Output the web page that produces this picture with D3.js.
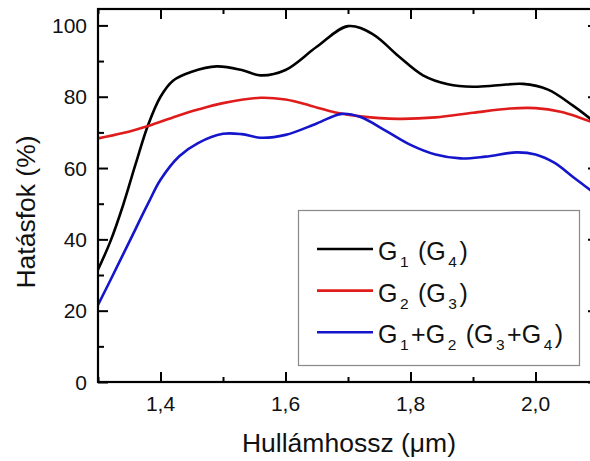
<!DOCTYPE html>
<html>
<head>
<meta charset="utf-8">
<script src="https://cdn.jsdelivr.net/npm/d3@7"></script>
<style>
  body { margin: 0; background: #fff; }
  svg { display: block; font-family: "Liberation Sans", Arial, sans-serif; }
</style>
</head>
<body>
<svg></svg>
<script>
const width = 590
const height = 461

// wavelength samples (µm) and efficiency (%) per series
const waveG1 = [1.30, 1.32, 1.34, 1.36, 1.38, 1.40, 1.42, 1.45, 1.49, 1.53, 1.56, 1.60, 1.65, 1.70, 1.74, 1.78, 1.82, 1.86, 1.90, 1.94, 1.98, 2.02, 2.06, 2.09, 2.10]
const effG1 = [31.5, 39.5, 49.5, 61, 72, 80, 84.5, 87, 88.5, 87.5, 86, 87.5, 94, 99.8, 97.5, 91.5, 86, 83.5, 82.8, 83.2, 83.6, 82, 77.5, 73.5, 72]

const waveG2 = [1.30, 1.34, 1.38, 1.42, 1.46, 1.50, 1.56, 1.60, 1.64, 1.68, 1.72, 1.78, 1.84, 1.90, 1.96, 2.00, 2.04, 2.07, 2.10]
const effG2 = [68.3, 69.8, 71.8, 74.2, 76.4, 78.2, 79.7, 79.2, 77.5, 75.6, 74.5, 73.8, 74.2, 75.5, 76.7, 76.8, 75.8, 74.2, 72.2]

const waveG12 = [1.30, 1.32, 1.35, 1.38, 1.40, 1.43, 1.46, 1.50, 1.53, 1.56, 1.60, 1.65, 1.69, 1.72, 1.76, 1.80, 1.84, 1.88, 1.92, 1.97, 2.00, 2.03, 2.06, 2.09, 2.10]
const effG12 = [21.6, 28.6, 39.3, 50, 56.7, 63.3, 67, 69.6, 69.5, 68.5, 69.3, 72.5, 75.2, 74.3, 70.5, 66.5, 63.8, 62.7, 63.2, 64.4, 63.8, 61.5, 57.5, 53.5, 52]

const xMajor = [1.4, 1.6, 1.8, 2.0]
const xMinor = [1.3, 1.5, 1.7, 1.9]
const yMajor = [0, 20, 40, 60, 80, 100]
const yMinor = [10, 30, 50, 70, 90]

const series = [
	{ x: waveG1, y: effG1, color: '#000000', label: [['G', ''], ['1', 'sub'], [' (G', ''], ['4', 'sub'], [')', '']] },
	{ x: waveG2, y: effG2, color: '#e01b1b', label: [['G', ''], ['2', 'sub'], [' (G', ''], ['3', 'sub'], [')', '']] },
	{ x: waveG12, y: effG12, color: '#1515cc', label: [['G', ''], ['1', 'sub'], ['+G', ''], ['2', 'sub'], [' (G', ''], ['3', 'sub'], ['+G', ''], ['4', 'sub'], [')', '']] }
]

const pLeft = 98, pRight = 598, pTop = 9, pBottom = 382

const x = d3.scaleLinear().domain([1.3, 2.1]).range([pLeft, pRight])
const y = d3.scaleLinear().domain([0, 104.6]).range([pBottom, pTop])

const fmt = d => d3.format('.1f')(d).replace('.', ',')

const svg = d3.select('svg')
	.attr('width', width)
	.attr('height', height)

svg.append('rect').attr('width', width).attr('height', height).attr('fill', '#fff')

svg.append('defs').append('clipPath').attr('id', 'plot')
	.append('rect').attr('x', pLeft).attr('y', pTop).attr('width', pRight - pLeft).attr('height', pBottom - pTop)

const line = d3.line()
	.x(d => x(d[0]))
	.y(d => y(d[1]))
	.curve(d3.curveCatmullRom.alpha(0.5))

svg.append('g')
	.attr('clip-path', 'url(#plot)')
	.selectAll('path')
	.data(series)
	.enter()
	.append('path')
	.attr('d', s => line(s.x.map((v, i) => [v, s.y[i]])))
	.attr('fill', 'none')
	.attr('stroke', s => s.color)
	.attr('stroke-width', 2.6)

// axes, ticks inward on all four sides
const axes = svg.append('g')
function ticks(axis, vals, size) {
	return axis.tickValues(vals).tickSize(size).tickFormat('')
}
axes.append('g').attr('transform', `translate(0,${pBottom})`)
	.call(ticks(d3.axisTop(x), xMinor, 5))
axes.append('g').attr('transform', `translate(0,${pBottom})`)
	.call(ticks(d3.axisTop(x), xMajor, 10))
axes.append('g').attr('transform', `translate(0,${pTop})`)
	.call(ticks(d3.axisBottom(x), xMinor, 5))
axes.append('g').attr('transform', `translate(0,${pTop})`)
	.call(ticks(d3.axisBottom(x), xMajor, 10))
axes.append('g').attr('transform', `translate(${pLeft},0)`)
	.call(ticks(d3.axisRight(y), yMinor, 6))
axes.append('g').attr('transform', `translate(${pLeft},0)`)
	.call(ticks(d3.axisRight(y), yMajor, 10))
axes.append('g').attr('transform', `translate(${pRight},0)`)
	.call(ticks(d3.axisLeft(y), yMinor, 6))
axes.append('g').attr('transform', `translate(${pRight},0)`)
	.call(ticks(d3.axisLeft(y), yMajor, 10))
axes.selectAll('.domain').remove()
axes.selectAll('line').attr('stroke', '#000').attr('stroke-width', 2)

svg.append('rect')
	.attr('x', pLeft).attr('y', pTop)
	.attr('width', pRight - pLeft).attr('height', pBottom - pTop)
	.attr('fill', 'none').attr('stroke', '#000').attr('stroke-width', 2.2)

// tick labels
svg.append('g').selectAll('text')
	.data(xMajor)
	.enter()
	.append('text')
	.attr('x', d => x(d))
	.attr('y', 411)
	.attr('text-anchor', 'middle')
	.attr('font-size', 21)
	.attr('fill', '#111')
	.text(fmt)

svg.append('g').selectAll('text')
	.data(yMajor)
	.enter()
	.append('text')
	.attr('x', 87)
	.attr('y', d => y(d) + 7.5)
	.attr('text-anchor', 'end')
	.attr('font-size', 21)
	.attr('fill', '#111')
	.text(d => d)

svg.append('text')
	.attr('x', 349).attr('y', 452)
	.attr('text-anchor', 'middle')
	.attr('font-size', 26.5)
	.attr('fill', '#111')
	.text('Hullámhossz (μm)')

svg.append('text')
	.attr('transform', 'translate(35,212) rotate(-90)')
	.attr('text-anchor', 'middle')
	.attr('font-size', 26.5)
	.attr('fill', '#111')
	.text('Hatásfok (%)')

// legend
const legend = svg.append('g')
legend.append('rect')
	.attr('x', 298.5).attr('y', 210.5)
	.attr('width', 281).attr('height', 155)
	.attr('fill', '#fff').attr('stroke', '#888').attr('stroke-width', 1.2)

const rows = legend.selectAll('g.row')
	.data(series)
	.enter()
	.append('g')
	.attr('class', 'row')
	.attr('transform', (d, i) => `translate(0,${249 + i * 41.6})`)

rows.append('line')
	.attr('x1', 317).attr('x2', 373)
	.attr('stroke', d => d.color)
	.attr('stroke-width', 2.6)

const labels = rows.append('text')
	.attr('x', 378).attr('y', 11)
	.attr('font-size', 25)
	.attr('fill', '#111')

labels.each(function (d) {
	const t = d3.select(this)
	let down = false
	d.label.forEach(function (p) {
		const sub = p[1] === 'sub'
		t.append('tspan')
			.attr('font-size', sub ? 15.5 : 25)
			.attr('dx', sub || down ? 2.5 : 0)
			.attr('dy', sub ? 7 : (down ? -7 : 0))
			.text(p[0])
		down = sub
	})
})
</script>
</body>
</html>
